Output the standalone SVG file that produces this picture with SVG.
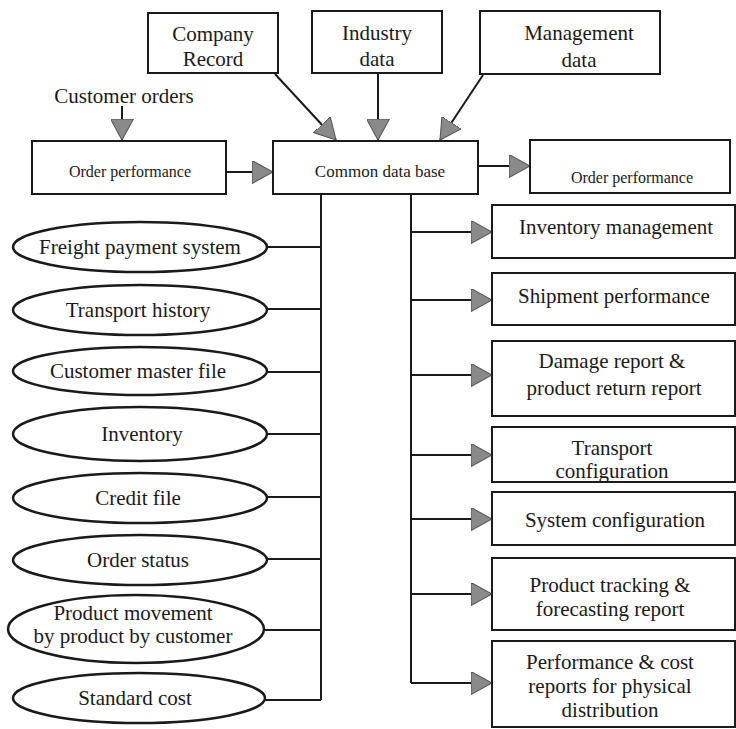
<svg xmlns="http://www.w3.org/2000/svg" width="736" height="729" viewBox="0 0 736 729" font-family="'Liberation Serif', 'DejaVu Serif', serif">
<style>
.box{fill:#fff;stroke:#1a1a1a;stroke-width:2}
.ell{fill:#fff;stroke:#1a1a1a;stroke-width:2.5}
text{font-family:'Liberation Serif','DejaVu Serif',serif;font-size:21px;fill:#1a1a1a;text-anchor:middle}
text.s{font-size:16px}
text.m{font-size:17px}
.ln{stroke:#1a1a1a;stroke-width:2;fill:none}
.ar{stroke:#1a1a1a;stroke-width:2;fill:none;marker-end:url(#ah)}
</style>
<defs>
<marker id="ah" viewBox="0 0 20 22" markerWidth="21" markerHeight="23" refX="20" refY="11" orient="auto" markerUnits="userSpaceOnUse">
<path d="M0,0 L20,11 L0,22 Z" fill="#8a8a8a" stroke="#555" stroke-width="1"/>
</marker>
</defs>
<rect width="736" height="729" fill="#fff"/>
<g id="connectors">
<line class="ar" x1="275" y1="74" x2="336" y2="140"/>
<line class="ar" x1="378" y1="73" x2="378" y2="140"/>
<line class="ar" x1="483" y1="75" x2="440" y2="140"/>
<line class="ar" x1="122" y1="106" x2="122" y2="140"/>
<line class="ar" x1="226" y1="172" x2="273" y2="172"/>
<line class="ar" x1="478" y1="166" x2="530" y2="166"/>
<polyline class="ln" points="321,194 321,700"/>
<line class="ln" x1="267" y1="247" x2="321" y2="247"/>
<line class="ln" x1="267" y1="309" x2="321" y2="309"/>
<line class="ln" x1="267" y1="372" x2="321" y2="372"/>
<line class="ln" x1="267" y1="434" x2="321" y2="434"/>
<line class="ln" x1="267" y1="497" x2="321" y2="497"/>
<line class="ln" x1="267" y1="559" x2="321" y2="559"/>
<line class="ln" x1="264" y1="630" x2="321" y2="630"/>
<line class="ln" x1="265" y1="700" x2="321" y2="700"/>
<polyline class="ln" points="411,194 411,683"/>
<line class="ar" x1="411" y1="232" x2="492" y2="232"/>
<line class="ar" x1="411" y1="300" x2="492" y2="300"/>
<line class="ar" x1="411" y1="375" x2="492" y2="375"/>
<line class="ar" x1="411" y1="455" x2="492" y2="455"/>
<line class="ar" x1="411" y1="519" x2="492" y2="519"/>
<line class="ar" x1="411" y1="594" x2="492" y2="594"/>
<line class="ar" x1="411" y1="683" x2="492" y2="683"/>
</g>
<g id="company-record"><rect class="box" x="148" y="13" width="130" height="60"/><text x="213" y="41">Company</text><text x="213" y="66">Record</text></g>
<g id="industry-data"><rect class="box" x="312" y="11" width="130" height="62"/><text x="377" y="40">Industry</text><text x="377" y="66">data</text></g>
<g id="management-data"><rect class="box" x="480" y="11" width="180" height="63"/><text x="579" y="40">Management</text><text x="579" y="67">data</text></g>
<g id="customer-orders"><text x="124" y="103">Customer orders</text></g>
<g id="order-performance-in"><rect class="box" x="32" y="141" width="194" height="53"/><text class="s" x="130" y="177">Order performance</text></g>
<g id="common-data-base"><rect class="box" x="273" y="141" width="205" height="53"/><text class="m" x="380" y="177">Common data base</text></g>
<g id="order-performance-out"><rect class="box" x="530" y="140" width="200" height="53"/><text class="s" x="632" y="183">Order performance</text></g>
<g id="freight"><ellipse class="ell" cx="140" cy="247" rx="127" ry="25"/><text x="140" y="254">Freight payment system</text></g>
<g id="transport-history"><ellipse class="ell" cx="140" cy="310" rx="127" ry="25"/><text x="138" y="317">Transport history</text></g>
<g id="customer-master"><ellipse class="ell" cx="140" cy="371" rx="127" ry="24"/><text x="138" y="378">Customer master file</text></g>
<g id="inventory"><ellipse class="ell" cx="140" cy="434" rx="127" ry="27"/><text x="142" y="441">Inventory</text></g>
<g id="credit-file"><ellipse class="ell" cx="140" cy="498" rx="127" ry="25"/><text x="138" y="505">Credit file</text></g>
<g id="order-status"><ellipse class="ell" cx="140" cy="560" rx="127" ry="25"/><text x="138" y="567">Order status</text></g>
<g id="product-movement"><ellipse class="ell" cx="136" cy="629" rx="128" ry="34"/><text x="133" y="620">Product movement</text><text x="133" y="643">by product by customer</text></g>
<g id="standard-cost"><ellipse class="ell" cx="139" cy="698" rx="126" ry="25"/><text x="135" y="705">Standard cost</text></g>
<g id="inventory-management"><rect class="box" x="492" y="205" width="243" height="53"/><text x="616" y="234">Inventory management</text></g>
<g id="shipment-performance"><rect class="box" x="492" y="273" width="243" height="52"/><text x="614" y="303">Shipment performance</text></g>
<g id="damage-report"><rect class="box" x="492" y="341" width="243" height="75"/><text x="612" y="368">Damage report &amp;</text><text x="614" y="395">product return report</text></g>
<g id="transport-configuration"><rect class="box" x="492" y="427" width="243" height="55"/><text x="612" y="455">Transport</text><text x="612" y="478">configuration</text></g>
<g id="system-configuration"><rect class="box" x="492" y="492" width="243" height="53"/><text x="615" y="527">System configuration</text></g>
<g id="product-tracking"><rect class="box" x="492" y="558" width="243" height="72"/><text x="610" y="592">Product tracking &amp;</text><text x="610" y="616">forecasting report</text></g>
<g id="performance-cost"><rect class="box" x="492" y="641" width="243" height="86"/><text x="610" y="669">Performance &amp; cost</text><text x="610" y="693">reports for physical</text><text x="610" y="717">distribution</text></g>
</svg>
